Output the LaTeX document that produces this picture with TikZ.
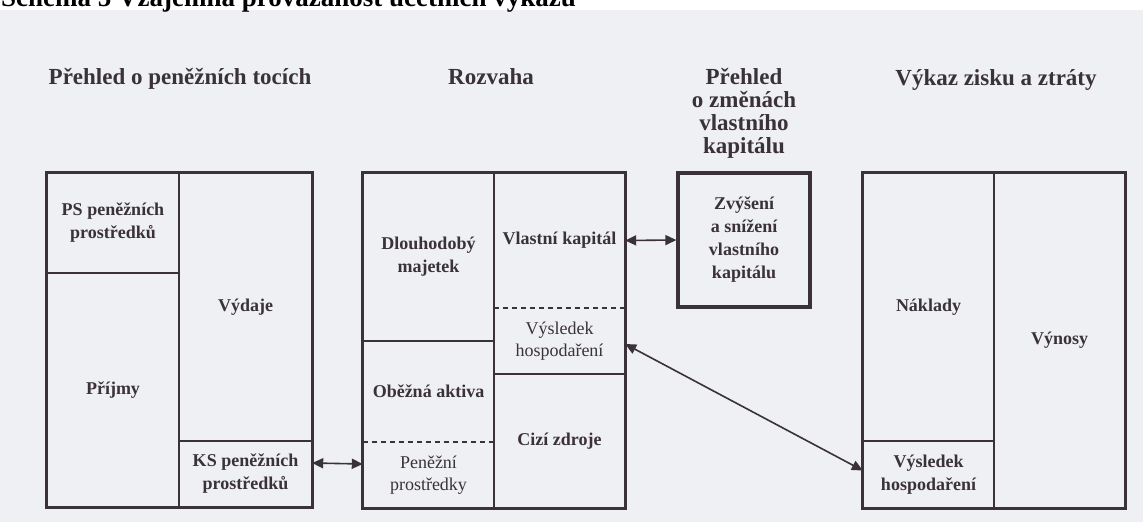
\documentclass[tikz,border=0pt]{standalone}
\usepackage{fontspec}
\setmainfont{Liberation Serif}
\usetikzlibrary{arrows.meta}
\definecolor{paper}{RGB}{239,240,244}
\definecolor{ink}{RGB}{58,50,54}
\begin{document}
\begin{tikzpicture}[x=1pt,y=-1pt,
  title/.style={inner sep=0pt, text=ink, font=\fontsize{23}{23}\selectfont\bfseries},
  cell/.style={inner sep=0pt, draw=none, align=center, text=ink,
    font=\fontsize{18}{23}\selectfont\bfseries},
  rcell/.style={cell, font=\fontsize{18}{22}\selectfont},
  outer/.style={draw=ink, line width=3.2pt},
  inner/.style={draw=ink, line width=2pt},
  dline/.style={draw=ink, line width=1.6pt, dash pattern=on 5pt off 4pt},
  conn/.style={draw=ink, line width=1.6pt, {Triangle[length=11pt,width=10pt]}-{Triangle[length=11pt,width=10pt]}}
]
\fill[paper] (0,0) rectangle (1143,522);
\useasboundingbox (0,0) rectangle (1143,522);
\fill[white] (0,0) rectangle (1143,10);
\node[anchor=base west, inner sep=0pt, text=black, font=\fontsize{27}{27}\selectfont\bfseries] (top) at (1,6) {Schéma 5 Vzájemná provázanost účetních výkazů};

% titles
\node[title, anchor=base] (t1) at (180,84) {Přehled o peněžních tocích};
\node[title, anchor=base] (t2) at (491,84) {Rozvaha};
\node[title, align=center] (t3) at (744,113) {Přehled\\o změnách\\vlastního\\kapitálu};
\node[title, anchor=base] (t4) at (996,85) {Výkaz zisku a ztráty};

% cash flow statement
\node[cell, minimum width=132pt, minimum height=100pt] (ps) at (113,223) {PS peněžních\\prostředků};
\node[cell, minimum width=132pt, minimum height=234pt] (prij) at (113,390) {Příjmy};
\node[cell, minimum width=133pt, minimum height=268pt] (vyd) at (245.5,307) {Výdaje};
\node[cell, minimum width=133pt, minimum height=66pt] (ks) at (245.5,474) {KS peněžních\\prostředků};
\draw[inner] (ps.south west) -- (ps.south east);
\draw[inner] (vyd.north west) -- (vyd.south west |- ks.south west);
\draw[inner] (ks.north west) -- (ks.north east);
\draw[outer] (ps.north west) rectangle (ks.south east);

% balance sheet
\node[cell, minimum width=131pt, minimum height=168pt] (dm) at (428.5,257) {Dlouhodobý\\majetek};
\node[cell, minimum width=131pt, minimum height=101pt] (oa) at (428.5,391.5) {Oběžná aktiva};
\node[rcell, minimum width=131pt, minimum height=66pt] (pen) at (428.5,475) {Peněžní\\prostředky};
\node[cell, minimum width=131pt, minimum height=135pt] (vk) at (559.5,240.5) {Vlastní kapitál};
\node[rcell, minimum width=131pt, minimum height=66pt] (vh) at (559.5,341) {Výsledek\\hospodaření};
\node[cell, minimum width=131pt, minimum height=134pt] (cz) at (559.5,441) {Cizí zdroje};
\draw[inner] (dm.south west) -- (dm.south east);
\draw[dline] (oa.south west) -- (oa.south east);
\draw[inner] (vk.north west) -- (cz.south west);
\draw[dline] (vk.south west) -- (vk.south east);
\draw[inner] (vh.south west) -- (vh.south east);
\draw[outer] (dm.north west) rectangle (cz.south east);

% changes in equity
\node[cell, draw=ink, line width=3.2pt, minimum width=132pt, minimum height=134pt] (zv) at (744,240) {Zvýšení\\a snížení\\vlastního\\kapitálu};

% income statement
\node[cell, minimum width=131pt, minimum height=268pt] (nak) at (928.5,307) {Náklady};
\node[cell, minimum width=131pt, minimum height=67pt] (vhz) at (928.5,474.5) {Výsledek\\hospodaření};
\node[cell, minimum width=131pt, minimum height=335pt] (vyn) at (1059.5,340.5) {Výnosy};
\draw[inner] (vyn.north west) -- (vyn.south west);
\draw[inner] (vhz.north west) -- (vhz.north east);
\draw[outer] (nak.north west) rectangle (vyn.south east);

% connectors
\draw[conn] ([yshift=11pt]ks.east) -- ([yshift=11pt]pen.west);
\draw[conn] (vk.east) -- (zv.west);
\draw[conn] ([yshift=-3pt]vh.east) -- ([yshift=4pt]vhz.west);
\end{tikzpicture}
\end{document}
